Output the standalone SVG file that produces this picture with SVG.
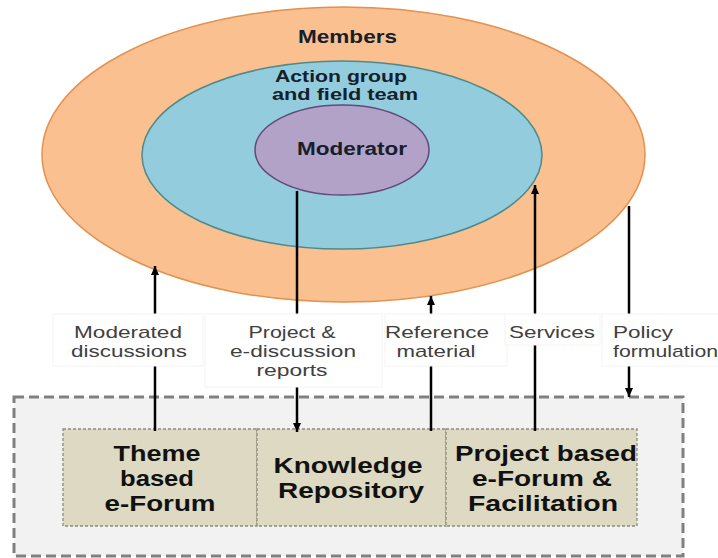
<svg xmlns="http://www.w3.org/2000/svg" width="718" height="558" viewBox="0 0 718 558">
<style>
.ell-t{font-family:"Liberation Sans",Arial,sans-serif;font-weight:bold;font-size:18px;fill:#15202b;text-anchor:middle}
.ag{font-size:16px}
.lbl{font-family:"Liberation Sans",Arial,sans-serif;font-size:17px;fill:#404040;text-anchor:middle}
.box-t{font-family:"Liberation Sans",Arial,sans-serif;font-weight:bold;font-size:22px;fill:#111;text-anchor:middle}
.lbox{fill:#fff;stroke:#f4f4f4;stroke-width:1}
.conn{stroke:#000;stroke-width:2.5;fill:none}
.inner{fill:#DDD9C3;stroke:#8c8c7a;stroke-width:1.3;stroke-dasharray:3 2}
</style>
<defs>
<marker id="ah" markerUnits="userSpaceOnUse" markerWidth="10" markerHeight="10" refX="9" refY="5" orient="auto">
<path d="M0,1 L9,5 L0,9 Z" fill="#000"/>
</marker>
</defs>
<rect width="718" height="558" fill="#fff"/>
<g id="members">
<ellipse cx="343.5" cy="154.5" rx="301.5" ry="147.5" fill="#FAC090" stroke="#E3914F" stroke-width="1.5"/>
<text class="ell-t" x="347.5" y="43" textLength="99" lengthAdjust="spacingAndGlyphs">Members</text>
</g>
<g id="action-group">
<ellipse cx="342" cy="155" rx="200" ry="94" fill="#93CDDD" stroke="#4F8A8B" stroke-width="1.5"/>
<text class="ell-t ag" x="341" y="82" textLength="132" lengthAdjust="spacingAndGlyphs">Action group</text>
<text class="ell-t ag" x="345" y="100" textLength="146" lengthAdjust="spacingAndGlyphs">and field team</text>
</g>
<g id="moderator">
<ellipse cx="342" cy="150" rx="87" ry="45" fill="#B3A2C7" stroke="#5F4B7A" stroke-width="1.5"/>
<text class="ell-t" x="352" y="155" textLength="110" lengthAdjust="spacingAndGlyphs">Moderator</text>
</g>
<g id="platform">
<rect x="14" y="397" width="669" height="159" fill="#F2F2F2" stroke="#808080" stroke-width="3" stroke-dasharray="10 5"/>
</g>
<g id="theme-forum">
<rect class="inner" x="63" y="429" width="194" height="97"/>
<text class="box-t" x="157" y="461" textLength="87" lengthAdjust="spacingAndGlyphs">Theme</text>
<text class="box-t" x="157" y="486" textLength="74" lengthAdjust="spacingAndGlyphs">based</text>
<text class="box-t" x="160" y="511" textLength="111" lengthAdjust="spacingAndGlyphs">e-Forum</text>
</g>
<g id="knowledge-repository">
<rect class="inner" x="257" y="429" width="189" height="97"/>
<text class="box-t" x="348" y="473" textLength="149" lengthAdjust="spacingAndGlyphs">Knowledge</text>
<text class="box-t" x="351" y="498" textLength="146" lengthAdjust="spacingAndGlyphs">Repository</text>
</g>
<g id="project-forum">
<rect class="inner" x="446" y="429" width="191" height="97"/>
<text class="box-t" x="546" y="461" textLength="182" lengthAdjust="spacingAndGlyphs">Project based</text>
<text class="box-t" x="542" y="486" textLength="140" lengthAdjust="spacingAndGlyphs">e-Forum &amp;</text>
<text class="box-t" x="543" y="511" textLength="150" lengthAdjust="spacingAndGlyphs">Facilitation</text>
</g>
<g id="connectors">
<line class="conn" x1="155" y1="431" x2="155" y2="266" marker-end="url(#ah)"/>
<line class="conn" x1="297" y1="191" x2="297" y2="432" marker-end="url(#ah)"/>
<line class="conn" x1="431" y1="431" x2="431" y2="296" marker-end="url(#ah)"/>
<line class="conn" x1="535" y1="431" x2="535" y2="185" marker-end="url(#ah)"/>
<line class="conn" x1="629" y1="206" x2="629" y2="397" marker-end="url(#ah)"/>
</g>
<g id="labels">
<rect class="lbox" x="53" y="314" width="150" height="52"/>
<text class="lbl" x="128" y="338" textLength="108" lengthAdjust="spacingAndGlyphs">Moderated</text>
<text class="lbl" x="129" y="357" textLength="116" lengthAdjust="spacingAndGlyphs">discussions</text>
<rect class="lbox" x="205" y="314" width="177" height="73"/>
<text class="lbl" x="292" y="338" textLength="87" lengthAdjust="spacingAndGlyphs">Project &amp;</text>
<text class="lbl" x="293" y="357" textLength="126" lengthAdjust="spacingAndGlyphs">e-discussion</text>
<text class="lbl" x="292" y="376" textLength="71" lengthAdjust="spacingAndGlyphs">reports</text>
<rect class="lbox" x="385" y="314" width="122" height="52"/>
<text class="lbl" x="437" y="338" textLength="104" lengthAdjust="spacingAndGlyphs">Reference</text>
<text class="lbl" x="436" y="357" textLength="79" lengthAdjust="spacingAndGlyphs">material</text>
<rect class="lbox" x="505" y="314" width="95" height="31"/>
<text class="lbl" x="552" y="338" textLength="86" lengthAdjust="spacingAndGlyphs">Services</text>
<rect class="lbox" x="602" y="314" width="118" height="52"/>
<text class="lbl" x="613" y="338" style="text-anchor:start" textLength="60" lengthAdjust="spacingAndGlyphs">Policy</text>
<text class="lbl" x="613" y="357" style="text-anchor:start" textLength="105" lengthAdjust="spacingAndGlyphs">formulation</text>
</g>
</svg>
